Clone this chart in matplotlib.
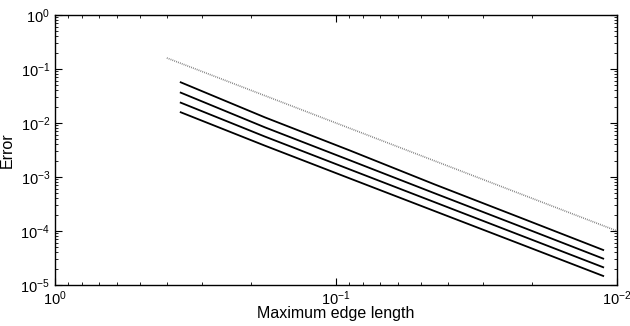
import matplotlib
matplotlib.use("Agg")
import matplotlib.pyplot as plt
import numpy as np

plt.rcParams['font.family'] = ['Liberation Sans', 'DejaVu Sans']
plt.rcParams['mathtext.fontset'] = 'custom'
plt.rcParams['mathtext.rm'] = 'Liberation Sans'
plt.rcParams['mathtext.it'] = 'Liberation Sans'

# Data
h = [0.357, 0.179, 0.0893, 0.0446, 0.0223, 0.0112]
err1 = [0.0567, 0.0127, 0.0031, 7.3e-4, 1.8e-4, 4.45e-5]
err2 = [0.0365, 0.0083, 0.00204, 5.0e-4, 1.24e-4, 3.08e-5]
err3 = [0.0238, 0.0056, 0.00138, 3.42e-4, 8.5e-5, 2.13e-5]
err4 = [0.0158, 0.0038, 9.4e-4, 2.34e-4, 5.85e-5, 1.47e-5]
ref_h = [0.4, 0.2, 0.1, 0.05, 0.02, 0.01]
ref_err = [0.16, 0.04, 0.01, 0.0025, 4e-4, 1e-4]

fig = plt.figure(figsize=(6.3, 3.26), dpi=100)
ax = fig.add_axes([0.0873, 0.1258, 0.8921, 0.8282])

ax.plot(ref_h, ref_err, linestyle=(0, (0.5, 0.7)), color='#777777', linewidth=1.2)
for e in (err1, err2, err3, err4):
    ax.plot(h, e, color='black', linewidth=1.3)

ax.set_xscale('log')
ax.set_yscale('log')
ax.set_xlim(1, 0.01)
ax.set_ylim(1e-5, 1)
ax.set_xticks([1, 0.1, 0.01])
ax.set_yticks([1e-5, 1e-4, 1e-3, 1e-2, 1e-1, 1])
ax.tick_params(which='both', direction='in', top=True, right=True, labelsize=10.5, colors='black')
ax.tick_params(which='major', length=5, width=0.8)
ax.tick_params(which='minor', length=2.5, width=0.6)
ax.tick_params(axis='x', pad=3)
for s in ax.spines.values():
    s.set_linewidth(1.0)
ax.set_xlabel('Maximum edge length', fontsize=11.5, labelpad=-1)
ax.set_ylabel('Error', fontsize=11.5, labelpad=4)

fig.savefig('out.png', dpi=100)
